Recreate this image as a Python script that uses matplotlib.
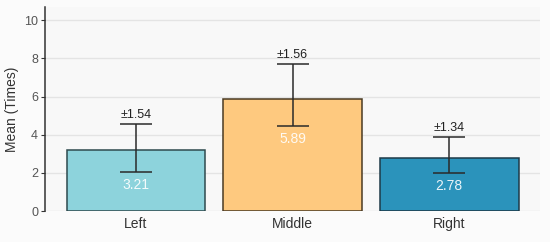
import matplotlib.pyplot as plt

plt.rcParams['font.family'] = ['Liberation Sans', 'DejaVu Sans']

# data
positions = ['Left', 'Middle', 'Right']
means = [3.21, 5.89, 2.78]
sd_labels = ['±1.54', '±1.56', '±1.34']
# error bar ends as drawn in the picture (lower / upper distance from the mean)
err_low = [1.16, 1.44, 0.78]
err_high = [1.34, 1.84, 1.09]

colors = ['#8dd3dc', '#fec97f', '#2b93bb']
edges = ['#2e4a4e', '#4a3a22', '#1d3a48']

fig = plt.figure(figsize=(5.5, 2.42), dpi=100)
fig.patch.set_facecolor('#fbfbfb')
ax = fig.add_axes([0.082, 0.128, 0.9, 0.843])
ax.set_facecolor('#f8f8f8')

x = range(len(positions))
ax.bar(x, means, width=0.885, color=colors, edgecolor=edges, linewidth=1.1, zorder=2)
ax.errorbar(x, means, yerr=[err_low, err_high], fmt='none', ecolor='#2a2a2a',
            elinewidth=1.1, capsize=11.5, capthick=1.1, zorder=3)

for i in x:
    lo = means[i] - err_low[i]
    hi = means[i] + err_high[i]
    ax.annotate(sd_labels[i], (i, hi), xytext=(0, 2), textcoords='offset points',
                ha='center', va='bottom', fontsize=9, color='#222222')
    ax.annotate(f'{means[i]:.2f}', (i, lo), xytext=(0, -9.5), textcoords='offset points',
                ha='center', va='center', fontsize=10, color='white', alpha=0.9)

ax.set_xlim(-0.58, 2.58)
ax.set_ylim(0, 10.7)
ax.set_yticks([0, 2, 4, 6, 8, 10])
ax.set_xticks(list(x))
ax.set_xticklabels(positions)
ax.set_ylabel('Mean (Times)', fontsize=10, color='#333333', labelpad=4)
ax.yaxis.grid(True, color='#e4e4e4', linewidth=1.0, zorder=0)
ax.set_axisbelow(True)

for s in ['top', 'right', 'bottom']:
    ax.spines[s].set_visible(False)
ax.spines['left'].set_color('#333333')
ax.spines['left'].set_linewidth(1.1)
ax.tick_params(axis='y', length=3, color='#333333', labelsize=9, labelcolor='#555555', pad=2)
ax.tick_params(axis='x', length=0, labelsize=10, labelcolor='#333333', pad=4)

fig.savefig('out.png', dpi=100, facecolor=fig.get_facecolor())
